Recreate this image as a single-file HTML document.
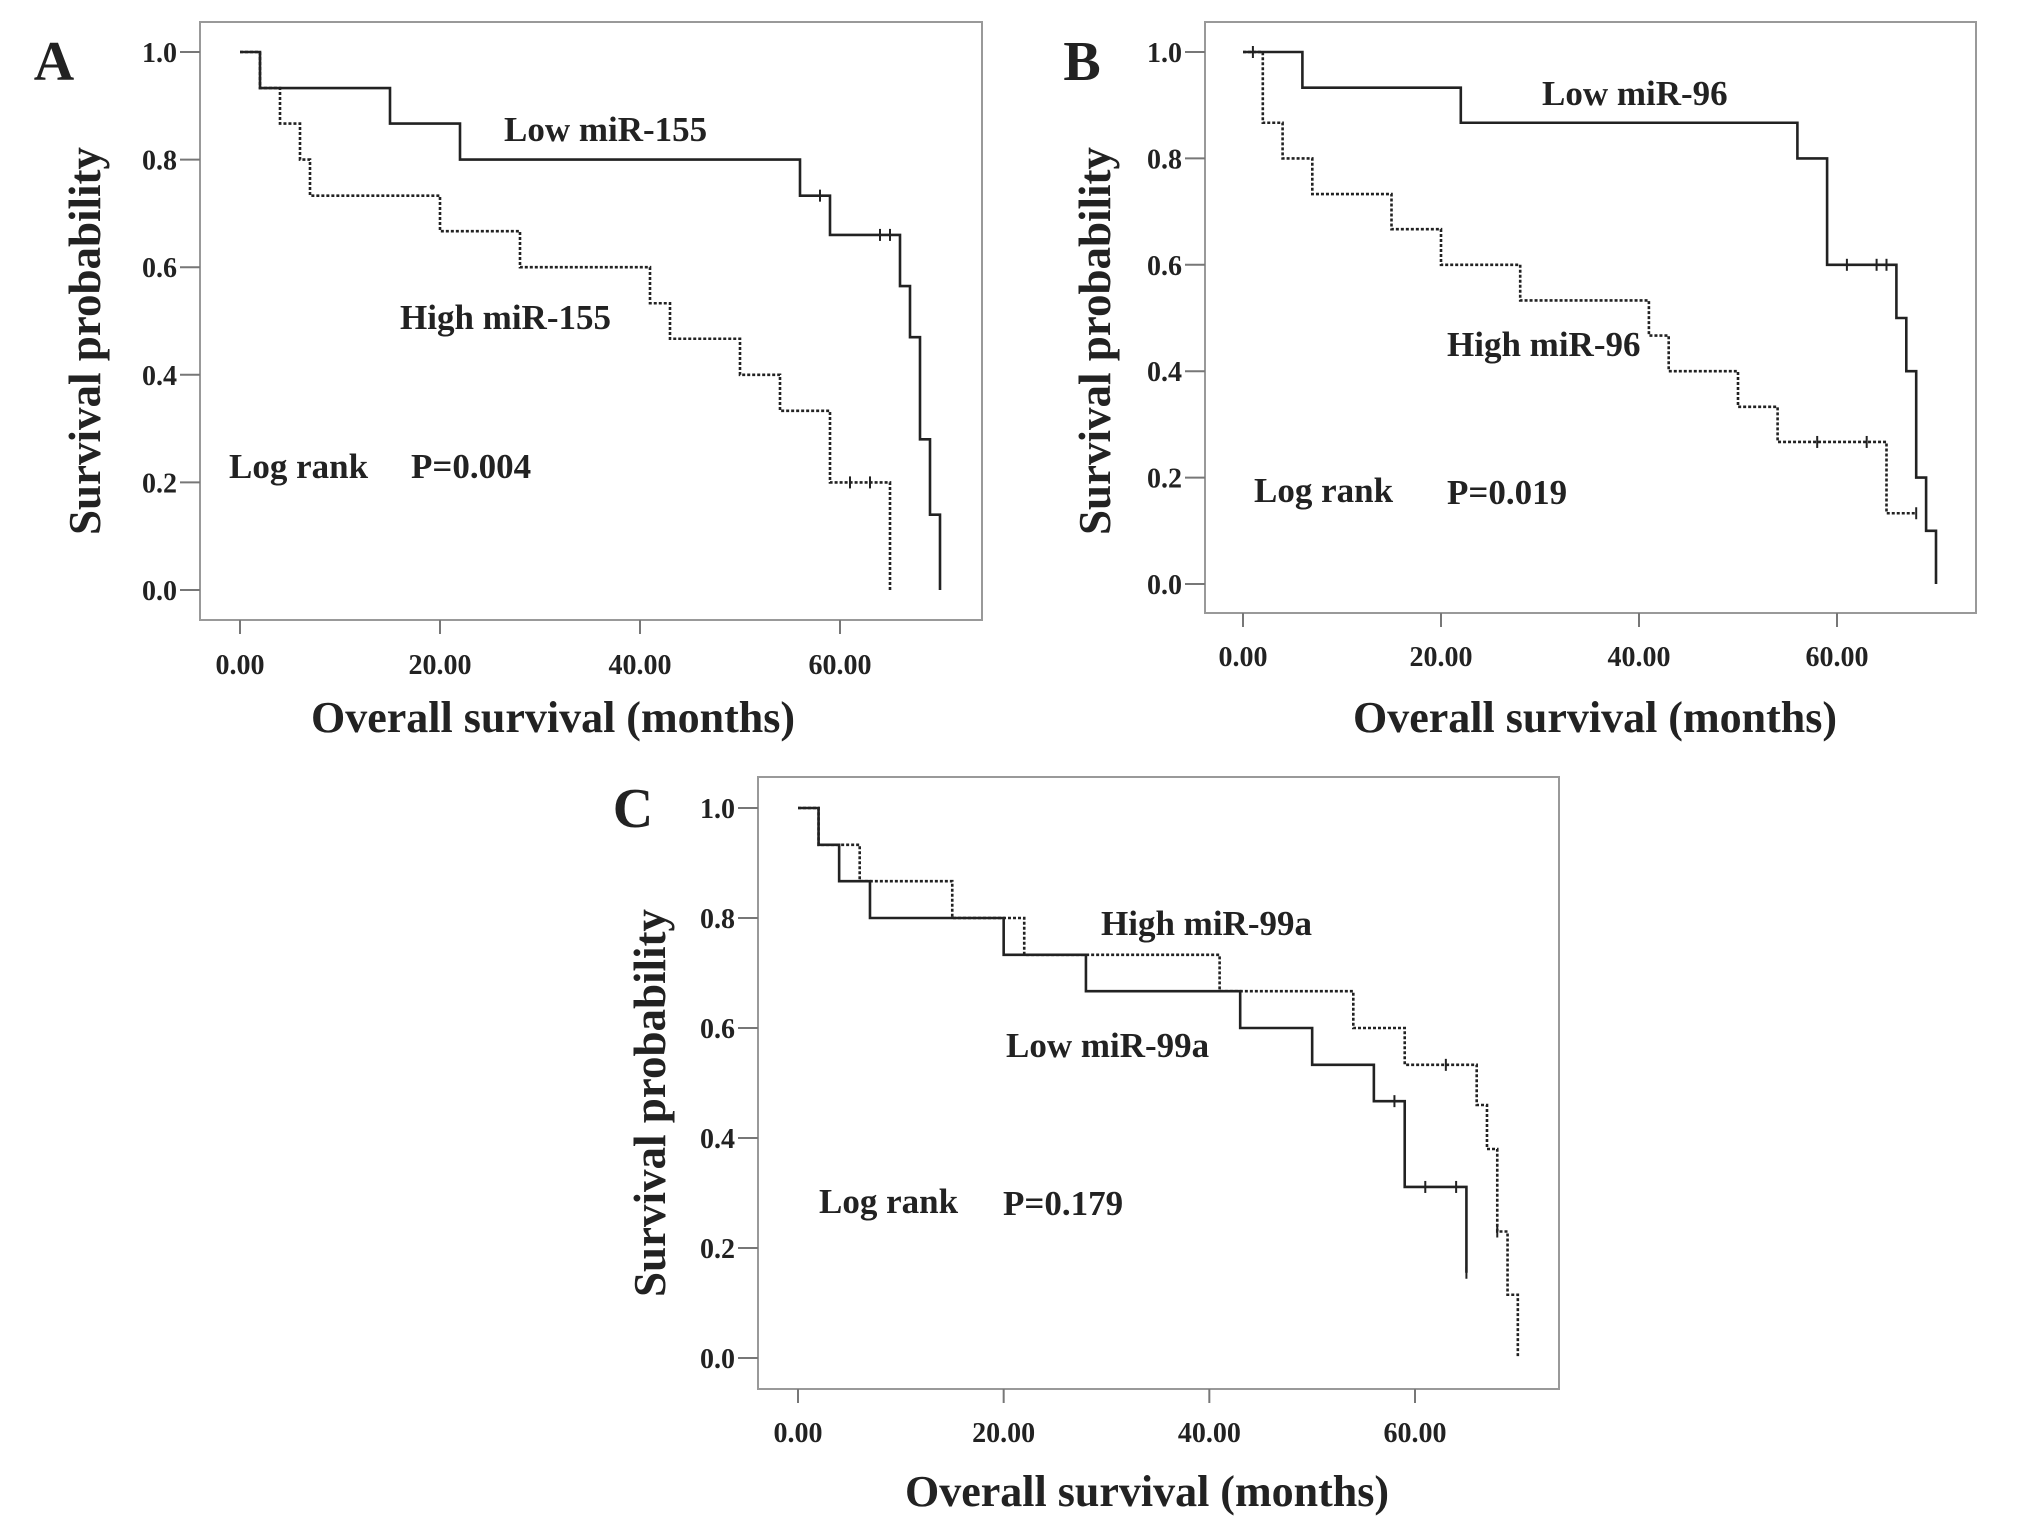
<!DOCTYPE html>
<html><head><meta charset="utf-8">
<style>
html,body{margin:0;padding:0;background:#fff;}
svg{display:block;}
text{font-family:"Liberation Serif",serif;fill:#222;}
</style></head>
<body>
<svg id="fig" width="2031" height="1524" viewBox="0 0 2031 1524" xmlns="http://www.w3.org/2000/svg"></svg>
<script>
// ---- Data ----
const xTickLabels = ["0.00","20.00","40.00","60.00"];
const xTickValues = [0,20,40,60];
const yTickLabels = ["0.0","0.2","0.4","0.6","0.8","1.0"];
const yTickValues = [0,0.2,0.4,0.6,0.8,1.0];

// Panel A
const aLowTimes = [2,15,22,56,59,66,67,68,69,70];
const aLowSurv  = [0.933,0.867,0.8,0.733,0.66,0.565,0.47,0.28,0.14,0];
const aLowCens  = [58,64,65];
const aHighTimes = [2,4,6,7,20,28,41,43,50,54,59,65];
const aHighSurv  = [0.933,0.867,0.8,0.733,0.667,0.6,0.533,0.467,0.4,0.333,0.2,0];
const aHighCens  = [61,63];
// Panel B
const bLowTimes = [6,22,56,59,66,67,68,69,70];
const bLowSurv  = [0.933,0.867,0.8,0.6,0.5,0.4,0.2,0.1,0];
const bLowCens  = [61,64,65];
const bHighTimes = [2,4,7,15,20,28,41,43,50,54,65];
const bHighSurv  = [0.867,0.8,0.733,0.667,0.6,0.533,0.467,0.4,0.333,0.267,0.133];
const bHighCens  = [1,58,63,68];
// Panel C
const cLowTimes = [2,4,7,20,28,43,50,56,59,65];
const cLowSurv  = [0.933,0.867,0.8,0.733,0.667,0.6,0.533,0.467,0.311,0.155];
const cLowCens  = [58,61,64,65];
const cHighTimes = [2,6,15,22,41,54,59,66,67,68,69,70];
const cHighSurv  = [0.933,0.867,0.8,0.733,0.667,0.6,0.533,0.46,0.38,0.23,0.115,0];
const cHighCens  = [63,68];

const NS="http://www.w3.org/2000/svg";
const svg=document.getElementById('fig');
function mk(tag,attrs,parent){const e=document.createElementNS(NS,tag);for(const k in attrs)e.setAttribute(k,attrs[k]);(parent||svg).appendChild(e);return e;}

function panel(p){
  const g=mk('g',{});
  
  
  const xs=t=>p.x0+(p.x60-p.x0)*t/60;
  const ys=v=>p.y0+(p.y1-p.y0)*v;
  const fr=mk('rect',{x:p.fl,y:p.ft,width:p.fr-p.fl,height:p.fb-p.ft,fill:'none',stroke:'#999','stroke-width':2},g);
  
  
  yTickValues.forEach((v,i)=>{
    const y=ys(v);
    const l=mk('line',{x1:p.fl-20,x2:p.fl,y1:y,y2:y,stroke:'#777','stroke-width':2},g);
    
    
    const t=mk('text',{x:p.fl-23,y:y+10,'text-anchor':'end','font-size':28,'font-weight':'bold',fill:'#333'},g);
    t.textContent=yTickLabels[i];
    
    
  });
  xTickValues.forEach((v,i)=>{
    const x=xs(v);
    const l=mk('line',{x1:x,x2:x,y1:p.fb,y2:p.fb+14,stroke:'#777','stroke-width':2},g);
    
    
    const t=mk('text',{x:x,y:p.xly,'text-anchor':'middle','font-size':28,'font-weight':'bold',fill:'#333'},g);
    t.textContent=xTickLabels[i];
    
    
  });
  const xt=mk('text',{x:p.xtx,y:p.xty,'text-anchor':'middle','font-size':44,'font-weight':'bold'},g);
  xt.textContent='Overall survival (months)';
  
  
  const yt=mk('text',{x:0,y:0,'text-anchor':'middle','font-size':45,'font-weight':'bold',transform:`translate(${p.ytx},${p.yty}) rotate(-90)`},g);
  yt.textContent='Survival probability';
  
  
  const pl=mk('text',{x:p.lx,y:p.ly,'text-anchor':'middle','font-size':56,'font-weight':'bold',fill:'#111'},g);
  pl.textContent=p.id;
  
  
  p.series.forEach(s=>{
    let d=`M${xs(0)},${ys(1)}`;
    s.times.forEach((t,i)=>{d+=` H${xs(t)} V${ys(s.surv[i])}`;});
    const last=s.surv[s.surv.length-1];
    const maxC=Math.max(...s.cens);
    if(last>0 && maxC>s.times[s.times.length-1]) d+=` H${xs(maxC)}`;
    const sg=mk('g',{},g);
    
    
    const path=mk('path',{d:d,fill:'none',stroke:'#222','stroke-width':2.6,'stroke-dasharray':s.dash?'3,2':'none'},sg);
    
    
    s.cens.forEach(c=>{
      let v=1;
      s.times.forEach((t,i)=>{if(t<=c)v=s.surv[i];});
      const cx=xs(c),cy=ys(v);
      const cl=mk('line',{x1:cx,x2:cx,y1:cy-6,y2:cy+6,stroke:'#222','stroke-width':2},sg);
      
      
    });
  });
  p.labels.forEach(L=>{
    const t=mk('text',{x:L.x,y:L.y,'font-size':35,'font-weight':'bold',fill:'#333'},g);
    t.textContent=L.t;
    
    
  });
}

panel({id:'A',fl:200,fr:982,ft:22,fb:620,x0:240,x60:840,y1:52,y0:590,xly:674,xtx:553,xty:732,ytx:100,yty:341,lx:54,ly:80,
  series:[{name:'low-mir-155-curve',times:aLowTimes,surv:aLowSurv,cens:aLowCens,dash:false},
          {name:'high-mir-155-curve',times:aHighTimes,surv:aHighSurv,cens:aHighCens,dash:true}],
  labels:[{t:'Low miR-155',x:504,y:141,n:'low-mir-155-label'},{t:'High miR-155',x:400,y:329,n:'high-mir-155-label'},
          {t:'Log rank',x:229,y:478,n:'log-rank-label'},{t:'P=0.004',x:411,y:478,n:'p-value-label'}]});
panel({id:'B',fl:1205,fr:1976,ft:22,fb:613,x0:1243,x60:1837,y1:52,y0:584,xly:666,xtx:1595,xty:732,ytx:1110,yty:341,lx:1082,ly:80,
  series:[{name:'low-mir-96-curve',times:bLowTimes,surv:bLowSurv,cens:bLowCens,dash:false},
          {name:'high-mir-96-curve',times:bHighTimes,surv:bHighSurv,cens:bHighCens,dash:true}],
  labels:[{t:'Low miR-96',x:1542,y:105,n:'low-mir-96-label'},{t:'High miR-96',x:1447,y:356,n:'high-mir-96-label'},
          {t:'Log rank',x:1254,y:502,n:'log-rank-label'},{t:'P=0.019',x:1447,y:504,n:'p-value-label'}]});
panel({id:'C',fl:758,fr:1559,ft:777,fb:1389,x0:798,x60:1415,y1:808,y0:1358,xly:1442,xtx:1147,xty:1506,ytx:665,yty:1103,lx:633,ly:827,
  series:[{name:'low-mir-99a-curve',times:cLowTimes,surv:cLowSurv,cens:cLowCens,dash:false},
          {name:'high-mir-99a-curve',times:cHighTimes,surv:cHighSurv,cens:cHighCens,dash:true}],
  labels:[{t:'High miR-99a',x:1101,y:935,n:'high-mir-99a-label'},{t:'Low miR-99a',x:1006,y:1057,n:'low-mir-99a-label'},
          {t:'Log rank',x:819,y:1213,n:'log-rank-label'},{t:'P=0.179',x:1003,y:1215,n:'p-value-label'}]});
</script>
</body></html>
